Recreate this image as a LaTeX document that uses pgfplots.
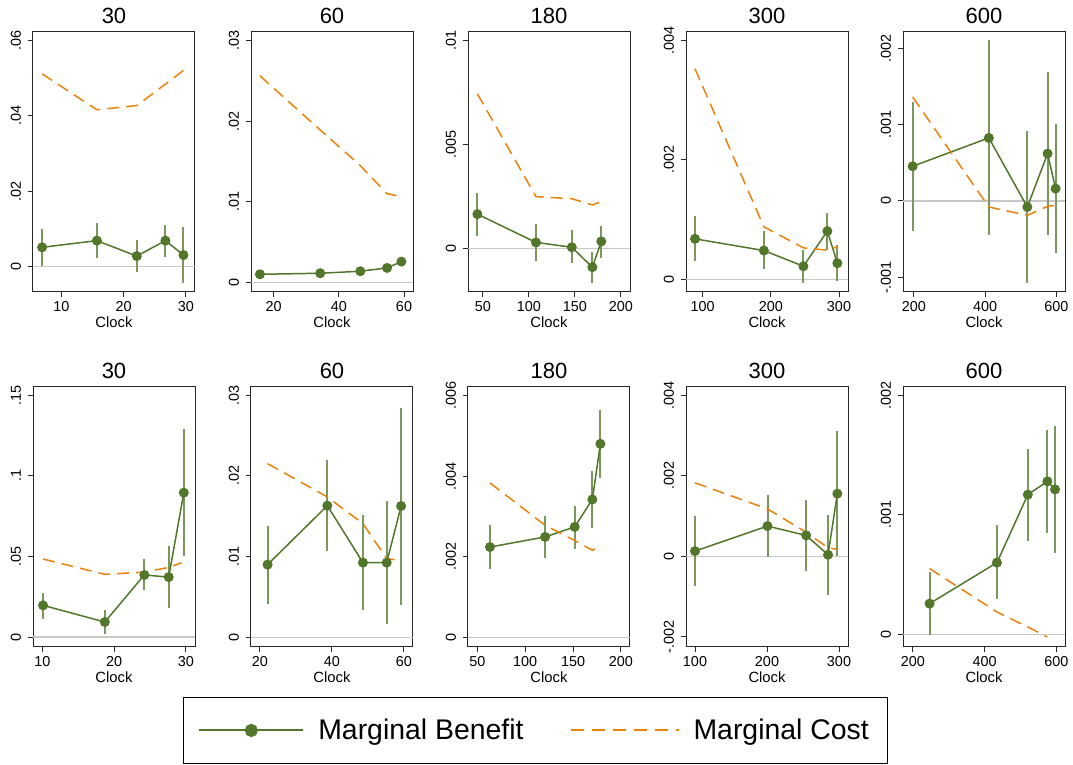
\documentclass[border=0pt]{standalone}
\usepackage{fontspec}
\setmainfont{Liberation Sans}
\usepackage{pgfplots}
\pgfplotsset{compat=1.18}
\definecolor{mbgreen}{RGB}{82,118,42}
\definecolor{errgreen}{RGB}{122,152,92}
\definecolor{mcorange}{RGB}{234,130,10}
\definecolor{zerogray}{RGB}{200,200,200}
\pgfplotsset{
  panel/.style={
    scale only axis, width=81pt, height=130pt, anchor=south west,
    axis line style={black!85, line width=0.5pt},
    tick pos=left, tick align=outside, major tick length=2.5pt,
    tick style={black!85, line width=0.5pt},
    ticklabel style={font=\fontsize{7.2}{8}\selectfont},
    yticklabel style={rotate=90, anchor=south},
    xticklabel style={yshift=1.5pt},
    title style={font=\fontsize{11}{13}\selectfont, yshift=-5.5pt},
    xlabel={Clock}, xlabel style={font=\fontsize{7.4}{8}\selectfont, yshift=4pt},
    scaled y ticks=false, scaled x ticks=false,
  },
  errs/.style={only marks, mark=none, forget plot,
    error bars/.cd, y dir=both, y explicit, error mark=none,
    error bar style={errgreen, line width=1pt}},
  ben/.style={mbgreen, line width=0.75pt, mark=*, mark size=2.1pt, mark options={solid, fill=mbgreen},
    legend image code/.code={\draw[##1, line width=1pt, mark size=2.8pt, mark repeat=2, mark phase=2] plot coordinates {(0pt,0pt)(26pt,0pt)(52pt,0pt)};}},
  cost/.style={mcorange, line width=0.75pt, dash pattern=on 6pt off 3.5pt, mark=none,
    legend image code/.code={\draw[##1, line width=1pt, dash pattern=on 6.5pt off 4pt] (0pt,0pt) -- (54pt,0pt);}},
  zero/.style={zerogray, line width=0.6pt, forget plot, mark=none},
}
\begin{document}
\begin{tikzpicture}
\useasboundingbox (0,0) rectangle (536.5pt,382.5pt);
% ---------- top row ----------
\begin{axis}[panel, at={(16.5pt,236.5pt)}, title={30},
  xmin=5.44, xmax=31.45, ymin=-0.00667, ymax=0.0622,
  xtick={10,20,30}, xticklabels={10,20,30},
  ytick={0,0.02,0.04,0.06}, yticklabels={0,.02,.04,.06}]
\addplot[zero] coordinates {(5.44,0) (31.45,0)};
\addplot[errs] table[x index=0, y index=1, y error plus expr=\thisrowno{2}-\thisrowno{1}, y error minus expr=\thisrowno{1}-\thisrowno{3}] {
6.9 0.00516 0.00996 0.0003
15.7 0.00693 0.01173 0.00222
22.1 0.00284 0.00711 -0.00133
26.7 0.00693 0.0110 0.00267
29.6 0.00311 0.01049 -0.00427
};
\addplot[ben] table {
6.9 0.00516
15.7 0.00693
22.1 0.00284
26.7 0.00693
29.6 0.00311
};
\addplot[cost] table {
6.9 0.0511
15.7 0.0416
22.1 0.0427
26.7 0.0484
29.6 0.0520
};
\end{axis}
\begin{axis}[panel, at={(125.5pt,236.5pt)}, title={60},
  xmin=13.06, xmax=62.76, ymin=-0.00116, ymax=0.03103,
  xtick={20,40,60}, xticklabels={20,40,60},
  ytick={0,0.01,0.02,0.03}, yticklabels={0,.01,.02,.03}]
\addplot[zero] coordinates {(13.06,0) (62.76,0)};
\addplot[errs] table[x index=0, y index=1, y error plus expr=\thisrowno{2}-\thisrowno{1}, y error minus expr=\thisrowno{1}-\thisrowno{3}] {
15.8 0.00103 0.00113 0.00093
34.3 0.00116 0.00126 0.00106
46.6 0.00141 0.00151 0.00131
54.8 0.00182 0.00192 0.00172
59.2 0.00260 0.00270 0.00250
};
\addplot[ben] table {
15.8 0.00103
34.3 0.00116
46.6 0.00141
54.8 0.00182
59.2 0.00260
};
\addplot[cost] table {
15.8 0.0256
34.3 0.0189
46.6 0.01448
54.8 0.0110
59.2 0.01067
};
\end{axis}
\begin{axis}[panel, at={(234pt,236.5pt)}, title={180},
  xmin=33.7, xmax=209.8, ymin=-0.00209, ymax=0.0104,
  xtick={50,100,150,200}, xticklabels={50,100,150,200},
  ytick={0,0.005,0.01}, yticklabels={0,.005,.01}]
\addplot[zero] coordinates {(33.7,0) (209.8,0)};
\addplot[errs] table[x index=0, y index=1, y error plus expr=\thisrowno{2}-\thisrowno{1}, y error minus expr=\thisrowno{1}-\thisrowno{3}] {
43.9 0.00165 0.00265 0.00061
107.6 0.00029 0.0012 -0.00059
146.5 0.00006 0.00088 -0.00072
168.9 -0.0009 -0.00019 -0.00164
178.6 0.00034 0.0011 -0.00045
};
\addplot[ben] table {
43.9 0.00165
107.6 0.00029
146.5 0.00006
168.9 -0.0009
178.6 0.00034
};
\addplot[cost] table {
43.9 0.00743
107.6 0.00249
146.5 0.00239
168.9 0.00209
178.6 0.00225
};
\end{axis}
\begin{axis}[panel, at={(343pt,236.5pt)}, title={300},
  xmin=75.6, xmax=313.2, ymin=-0.000213, ymax=0.00414,
  xtick={100,200,300}, xticklabels={100,200,300},
  ytick={0,0.002,0.004}, yticklabels={0,.002,.004}]
\addplot[zero] coordinates {(75.6,0) (313.2,0)};
\addplot[errs] table[x index=0, y index=1, y error plus expr=\thisrowno{2}-\thisrowno{1}, y error minus expr=\thisrowno{1}-\thisrowno{3}] {
88.8 0.000677 0.001057 0.000302
189.8 0.000481 0.0008 0.000173
247.8 0.000218 0.000492 -0.000056
282.9 0.000806 0.001108 0.000498
297.6 0.000269 0.00057 -0.000034
};
\addplot[ben] table {
88.8 0.000677
189.8 0.000481
247.8 0.000218
282.9 0.000806
297.6 0.000269
};
\addplot[cost] table {
88.8 0.003524
189.8 0.000878
247.8 0.000526
282.9 0.000487
297.6 0.000543
};
\end{axis}
\begin{axis}[panel, at={(451.5pt,236.5pt)}, title={600},
  xmin=169.2, xmax=624.2, ymin=-0.00119, ymax=0.00221,
  xtick={200,400,600}, xticklabels={200,400,600},
  ytick={-0.001,0,0.001,0.002}, yticklabels={-.001,0,.001,.002}]
\addplot[zero] coordinates {(169.2,0) (624.2,0)};
\addplot[errs] table[x index=0, y index=1, y error plus expr=\thisrowno{2}-\thisrowno{1}, y error minus expr=\thisrowno{1}-\thisrowno{3}] {
196.3 0.000454 0.0013 -0.000393
410.3 0.000825 0.0021 -0.00045
518.4 -0.0000786 0.000913 -0.00107
575.3 0.00062 0.00169 -0.00045
597.7 0.000162 0.00101 -0.000677
};
\addplot[ben] table {
196.3 0.000454
410.3 0.000825
518.4 -0.0000786
575.3 0.00062
597.7 0.000162
};
\addplot[cost] table {
196.3 0.00136
410.3 -0.0000786
518.4 -0.000188
575.3 -0.00007
597.7 -0.000057
};
\end{axis}
% ---------- bottom row ----------
\begin{axis}[panel, at={(16.5pt,59pt)}, title={30},
  xmin=8.7, xmax=31.26, ymin=-0.0062, ymax=0.1552,
  xtick={10,20,30}, xticklabels={10,20,30},
  ytick={0,0.05,0.1,0.15}, yticklabels={0,.05,.1,.15}]
\addplot[zero] coordinates {(8.7,0) (31.26,0)};
\addplot[errs] table[x index=0, y index=1, y error plus expr=\thisrowno{2}-\thisrowno{1}, y error minus expr=\thisrowno{1}-\thisrowno{3}] {
10.1 0.01965 0.0275 0.01138
18.7 0.00931 0.01655 0.00207
24.2 0.0385 0.0482 0.0290
27.6 0.0372 0.0563 0.0182
29.7 0.0896 0.1293 0.0500
};
\addplot[ben] table {
10.1 0.01965
18.7 0.00931
24.2 0.0385
27.6 0.0372
29.7 0.0896
};
\addplot[cost] table {
10.1 0.0484
18.7 0.0389
24.2 0.0403
27.6 0.0432
29.4 0.0461
};
\end{axis}
\begin{axis}[panel, at={(125.5pt,59pt)}, title={60},
  xmin=17.5, xmax=62.5, ymin=-0.0012, ymax=0.03103,
  xtick={20,40,60}, xticklabels={20,40,60},
  ytick={0,0.01,0.02,0.03}, yticklabels={0,.01,.02,.03}]
\addplot[zero] coordinates {(17.5,0) (62.5,0)};
\addplot[errs] table[x index=0, y index=1, y error plus expr=\thisrowno{2}-\thisrowno{1}, y error minus expr=\thisrowno{1}-\thisrowno{3}] {
22.1 0.00901 0.0138 0.00417
38.7 0.01632 0.02194 0.01066
48.6 0.00926 0.01512 0.00343
55.2 0.00926 0.01686 0.0017
59.2 0.01628 0.02847 0.00405
};
\addplot[ben] table {
22.1 0.00901
38.7 0.01632
48.6 0.00926
55.2 0.00926
59.2 0.01628
};
\addplot[cost] table {
22.1 0.02153
38.7 0.0174
48.6 0.01409
55.2 0.00975
57.4 0.00963
};
\end{axis}
\begin{axis}[panel, at={(234pt,59pt)}, title={180},
  xmin=40.3, xmax=209.4, ymin=-0.00024, ymax=0.00621,
  xtick={50,100,150,200}, xticklabels={50,100,150,200},
  ytick={0,0.002,0.004,0.006}, yticklabels={0,.002,.004,.006},
  legend style={at={(axis description cs:0.417,-0.321)}, anchor=center,
    draw=black, line width=0.6pt, font=\fontsize{14.2}{16}\selectfont,
    inner xsep=7.5pt, inner ysep=8.5pt,
    /tikz/every odd column/.append style={column sep=5pt},
    /tikz/every even column/.append style={column sep=21pt}},
  legend columns=2, legend cell align=left]
\addplot[zero] coordinates {(40.3,0) (209.4,0)};
\addplot[errs] table[x index=0, y index=1, y error plus expr=\thisrowno{2}-\thisrowno{1}, y error minus expr=\thisrowno{1}-\thisrowno{3}] {
63.2 0.00224 0.00278 0.0017
120.8 0.00249 0.003 0.00197
151.7 0.00274 0.00327 0.00218
170.1 0.00342 0.00412 0.00271
178.5 0.0048 0.00565 0.00395
};
\addplot[ben] table {
63.2 0.00224
120.8 0.00249
151.7 0.00274
170.1 0.00342
178.5 0.0048
};
\addlegendentry{Marginal Benefit}
\addplot[cost] table {
63.2 0.00383
120.8 0.00278
151.7 0.0024
170.1 0.00216
178.5 0.00226
};
\addlegendentry{Marginal Cost}
\end{axis}
\begin{axis}[panel, at={(343pt,59pt)}, title={300},
  xmin=87.5, xmax=312.5, ymin=-0.00225, ymax=0.00421,
  xtick={100,200,300}, xticklabels={100,200,300},
  ytick={-0.002,0,0.002,0.004}, yticklabels={-.002,0,.002,.004}]
\addplot[zero] coordinates {(87.5,0) (312.5,0)};
\addplot[errs] table[x index=0, y index=1, y error plus expr=\thisrowno{2}-\thisrowno{1}, y error minus expr=\thisrowno{1}-\thisrowno{3}] {
100 0.000133 0.001 -0.00074
200.7 0.000754 0.00153 -0.00002
254.4 0.000522 0.00139 -0.00035
284.8 0.0000414 0.00104 -0.00095
297.7 0.00156 0.00311 0.0
};
\addplot[ben] table {
100 0.000133
200.7 0.000754
254.4 0.000522
284.8 0.0000414
297.7 0.00156
};
\addplot[cost] table {
100 0.00183
200.7 0.00118
254.4 0.0006
284.8 0.000215
297.7 0.000174
};
\end{axis}
\begin{axis}[panel, at={(451.5pt,59pt)}, title={600},
  xmin=172.2, xmax=624.1, ymin=-0.000106, ymax=0.00207,
  xtick={200,400,600}, xticklabels={200,400,600},
  ytick={0,0.001,0.002}, yticklabels={0,.001,.002}]
\addplot[zero] coordinates {(172.2,0) (624.1,0)};
\addplot[errs] table[x index=0, y index=1, y error plus expr=\thisrowno{2}-\thisrowno{1}, y error minus expr=\thisrowno{1}-\thisrowno{3}] {
246.3 0.000257 0.000522 -0.0000084
434.3 0.0006 0.000912 0.000293
520.4 0.001169 0.001554 0.000781
575 0.00128 0.001707 0.000851
596.3 0.001213 0.00174 0.000681
};
\addplot[ben] table {
246.3 0.000257
434.3 0.0006
520.4 0.001169
575 0.00128
596.3 0.001213
};
\addplot[cost] table {
246.3 0.00055
434.3 0.000187
520.4 0.0000614
575 -0.0000223
};
\end{axis}
\end{tikzpicture}
\end{document}
